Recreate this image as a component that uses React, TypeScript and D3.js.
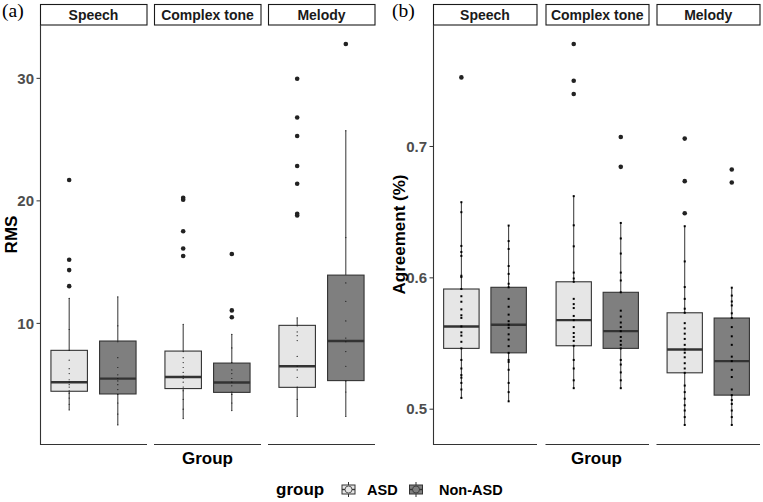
import React from "react";
import * as d3 from "d3";

const facets = ["Speech", "Complex tone", "Melody"];
const groups = ["ASD", "Non-ASD"];
const groupFill = ["#e6e6e6", "#7f7f7f"];

// order: Speech ASD, Speech Non-ASD, Complex ASD, Complex Non-ASD, Melody ASD, Melody Non-ASD
const rmsQ1 = [4.46, 4.24, 4.68, 4.37, 4.78, 5.33];
const rmsMedian = [5.19, 5.49, 5.62, 5.17, 6.5, 8.56];
const rmsQ3 = [7.8, 8.56, 7.74, 6.76, 9.84, 13.94];
const rmsLow = [2.93, 1.71, 2.23, 2.88, 2.4, 2.4];
const rmsHigh = [12.04, 12.17, 9.92, 9.1, 10.46, 25.73];
const rmsOutliers = [
  [21.7, 15.2, 14.35, 13.04],
  [],
  [20.26, 20.1, 17.52, 16.11, 15.5],
  [15.66, 11.06, 10.5],
  [29.97, 26.8, 25.3, 22.85, 21.4, 18.95, 18.8],
  [32.8],
];
const rmsPoints = [
  [2.93, 3.4, 3.9, 4.3, 4.5, 4.8, 5.0, 5.2, 5.4, 5.9, 6.3, 7.0, 7.8, 9.5, 12.04],
  [1.71, 2.6, 3.5, 4.2, 4.6, 5.0, 5.3, 5.5, 5.8, 6.4, 7.2, 8.5, 9.8, 12.17],
  [2.23, 3.0, 3.8, 4.5, 4.8, 5.2, 5.5, 5.7, 6.0, 6.4, 6.8, 7.2, 7.7, 9.92],
  [2.88, 3.5, 4.2, 4.4, 4.9, 5.2, 5.5, 5.9, 6.2, 6.8, 8.0, 9.1],
  [2.4, 3.8, 4.8, 5.6, 6.2, 6.5, 7.3, 8.6, 9.0, 9.3, 9.8, 10.46],
  [2.4, 4.4, 5.3, 6.5, 7.7, 8.5, 8.8, 10.2, 11.8, 13.3, 17.0, 25.73],
];
const rmsTicks = [10, 20, 30];

const agrQ1 = [0.5463, 0.5429, 0.5483, 0.5463, 0.5277, 0.5107];
const agrMedian = [0.563, 0.5643, 0.5678, 0.5594, 0.5455, 0.5366];
const agrQ3 = [0.5915, 0.5928, 0.597, 0.589, 0.5734, 0.5694];
const agrLow = [0.5086, 0.506, 0.516, 0.516, 0.488, 0.488];
const agrHigh = [0.6576, 0.6398, 0.6622, 0.6418, 0.6393, 0.5925];
const agrOutliers = [
  [0.7526],
  [],
  [0.778, 0.75, 0.74],
  [0.7072, 0.6845],
  [0.706, 0.6736, 0.6492],
  [0.6825, 0.6726],
];
const agrPoints = [
  [0.5086, 0.515, 0.52, 0.524, 0.526, 0.531, 0.5375, 0.5463, 0.5513, 0.556, 0.5585, 0.563, 0.5695, 0.5715, 0.576, 0.5818, 0.586, 0.5915, 0.6006, 0.6016, 0.6167, 0.6197, 0.6243, 0.65, 0.6576],
  [0.506, 0.513, 0.52, 0.53, 0.536, 0.5375, 0.5429, 0.548, 0.553, 0.557, 0.562, 0.5643, 0.567, 0.572, 0.578, 0.584, 0.5928, 0.5955, 0.603, 0.609, 0.622, 0.628, 0.6398],
  [0.516, 0.522, 0.531, 0.5375, 0.5483, 0.552, 0.555, 0.558, 0.5625, 0.5678, 0.571, 0.577, 0.58, 0.584, 0.597, 0.5995, 0.604, 0.624, 0.64, 0.6622],
  [0.516, 0.522, 0.528, 0.534, 0.5375, 0.5463, 0.549, 0.552, 0.555, 0.5594, 0.5625, 0.566, 0.5705, 0.575, 0.589, 0.598, 0.604, 0.6185, 0.63, 0.6418],
  [0.488, 0.494, 0.499, 0.503, 0.508, 0.513, 0.518, 0.5277, 0.531, 0.535, 0.5395, 0.543, 0.5455, 0.549, 0.5535, 0.5575, 0.5615, 0.5655, 0.5734, 0.5765, 0.584, 0.593, 0.6125, 0.6393],
  [0.488, 0.494, 0.499, 0.504, 0.507, 0.5107, 0.515, 0.5245, 0.53, 0.5366, 0.54, 0.549, 0.5555, 0.5625, 0.5694, 0.573, 0.579, 0.582, 0.5865, 0.5925],
];
const agrTicks = [0.5, 0.6, 0.7];

const FONT = "'Liberation Sans', Arial, sans-serif";

type PanelProps = {
  tag: string;
  tagX: number;
  facetX: [number, number][];
  yLabel: string;
  yLabelX: number;
  q1: number[];
  med: number[];
  q3: number[];
  lo: number[];
  hi: number[];
  outliers: number[][];
  points: number[][];
  ticks: number[];
  tickFmt: (v: number) => string;
  pointR: number;
  pointSquare: boolean;
};

const TOP = 25;
const BOTTOM = 444;

function Panel(p: PanelProps) {
  const all = [...p.lo, ...p.hi, ...p.outliers.flat()];
  const mn = d3.min(all) as number;
  const mx = d3.max(all) as number;
  const ex = (mx - mn) * 0.05;
  const y = d3.scaleLinear().domain([mn - ex, mx + ex]).range([BOTTOM, TOP]);
  const axisX = p.facetX[0][0];
  const plotCenter = (p.facetX[0][0] + p.facetX[2][1]) / 2;
  return (
    <g>
      <text x={p.tagX} y={17} fontFamily="'Liberation Serif', 'Times New Roman', serif" fontSize={19.5}>{p.tag}</text>
      {facets.map((f, fi) => {
        const [x0, x1] = p.facetX[fi];
        const x = d3.scaleLinear().domain([0.4, 2.6]).range([x0, x1]);
        const bw = x(0.75) - x(0);
        return (
          <g key={f}>
            <rect x={x0 + 0.5} y={4.5} width={x1 - x0 - 0.5} height={20.5} fill="#fff" stroke="#1a1a1a" strokeWidth={1.1} />
            <text x={(x0 + x1) / 2} y={19.5} textAnchor="middle" fontFamily={FONT} fontWeight="bold" fontSize={14} fill="#1a1a1a">{f}</text>
            <line x1={x0} x2={x1} y1={BOTTOM + 0.5} y2={BOTTOM + 0.5} stroke="#333" strokeWidth={1.1} />
            {groups.map((g, gi) => {
              const i = fi * 2 + gi;
              const cx = x(gi + 1);
              return (
                <g key={g}>
                  <line x1={cx} x2={cx} y1={y(p.hi[i])} y2={y(p.q3[i])} stroke="#333" strokeWidth={1} />
                  <line x1={cx} x2={cx} y1={y(p.q1[i])} y2={y(p.lo[i])} stroke="#333" strokeWidth={1} />
                  <rect x={cx - bw / 2} y={y(p.q3[i])} width={bw} height={y(p.q1[i]) - y(p.q3[i])} fill={groupFill[gi]} stroke="#333" strokeWidth={1.1} />
                  <line x1={cx - bw / 2} x2={cx + bw / 2} y1={y(p.med[i])} y2={y(p.med[i])} stroke="#333" strokeWidth={2.4} />
                  {p.outliers[i].map((v, k) => (
                    <circle key={k} cx={cx} cy={y(v)} r={2.3} fill="#222" />
                  ))}
                  {p.points[i].map((v, k) =>
                    p.pointSquare ? (
                      <rect key={"p" + k} x={cx - p.pointR} y={y(v) - p.pointR} width={p.pointR * 2} height={p.pointR * 2} fill="#000" />
                    ) : (
                      <circle key={"p" + k} cx={cx} cy={y(v)} r={p.pointR} fill="#111" />
                    )
                  )}
                </g>
              );
            })}
          </g>
        );
      })}
      <line x1={axisX + 0.5} x2={axisX + 0.5} y1={TOP} y2={BOTTOM + 1} stroke="#333" strokeWidth={1.1} />
      {p.ticks.map((t) => (
        <g key={t}>
          <line x1={axisX - 3.5} x2={axisX} y1={y(t)} y2={y(t)} stroke="#333" strokeWidth={1} />
          <text x={axisX - 6} y={y(t) + 5.3} textAnchor="end" fontFamily={FONT} fontWeight="bold" fontSize={15} fill="#4d4d4d">{p.tickFmt(t)}</text>
        </g>
      ))}
      <text transform={`translate(${p.yLabelX},${(TOP + BOTTOM) / 2}) rotate(-90)`} textAnchor="middle" fontFamily={FONT} fontWeight="bold" fontSize={17} fill="#000">{p.yLabel}</text>
      <text x={plotCenter} y={464} textAnchor="middle" fontFamily={FONT} fontWeight="bold" fontSize={17} fill="#000">Group</text>
    </g>
  );
}

function LegendKey({ x, y, fill }: { x: number; y: number; fill: string }) {
  return (
    <g>
      <line x1={x + 7.5} x2={x + 7.5} y1={y} y2={y + 15} stroke="#333" strokeWidth={1} />
      <rect x={x + 1} y={y + 3} width={13} height={9} fill={fill} stroke="#333" strokeWidth={1} />
      <line x1={x + 1} x2={x + 14} y1={y + 7.5} y2={y + 7.5} stroke="#333" strokeWidth={1.4} />
      <circle cx={x + 7.5} cy={y + 7.5} r={3.5} fill={fill} stroke="#333" strokeWidth={0.8} />
    </g>
  );
}

export default function App() {
  return (
    <svg width={763} height={502} style={{ position: "absolute", left: 0, top: 0, background: "#fff" }}>
      <rect width={763} height={502} fill="#fff" />
      <Panel
        tag="(a)"
        tagX={2}
        facetX={[[40, 147], [154, 261], [268, 375]]}
        yLabel="RMS"
        yLabelX={16.5}
        q1={rmsQ1}
        med={rmsMedian}
        q3={rmsQ3}
        lo={rmsLow}
        hi={rmsHigh}
        outliers={rmsOutliers}
        points={rmsPoints}
        ticks={rmsTicks}
        tickFmt={(v) => String(v)}
        pointR={0.6}
        pointSquare={false}
      />
      <Panel
        tag="(b)"
        tagX={392}
        facetX={[[433, 537], [545.5, 649], [656.5, 760]]}
        yLabel="Agreement (%)"
        yLabelX={405}
        q1={agrQ1}
        med={agrMedian}
        q3={agrQ3}
        lo={agrLow}
        hi={agrHigh}
        outliers={agrOutliers}
        points={agrPoints}
        ticks={agrTicks}
        tickFmt={(v) => v.toFixed(1)}
        pointR={1}
        pointSquare={true}
      />
      <text x={276} y={495} fontFamily={FONT} fontWeight="bold" fontSize={17} fill="#000">group</text>
      <LegendKey x={341} y={482} fill={groupFill[0]} />
      <text x={367} y={495} fontFamily={FONT} fontWeight="bold" fontSize={14.5} fill="#000">{groups[0]}</text>
      <LegendKey x={408.5} y={482} fill={groupFill[1]} />
      <text x={439} y={495} fontFamily={FONT} fontWeight="bold" fontSize={14.5} fill="#000">{groups[1]}</text>
    </svg>
  );
}
